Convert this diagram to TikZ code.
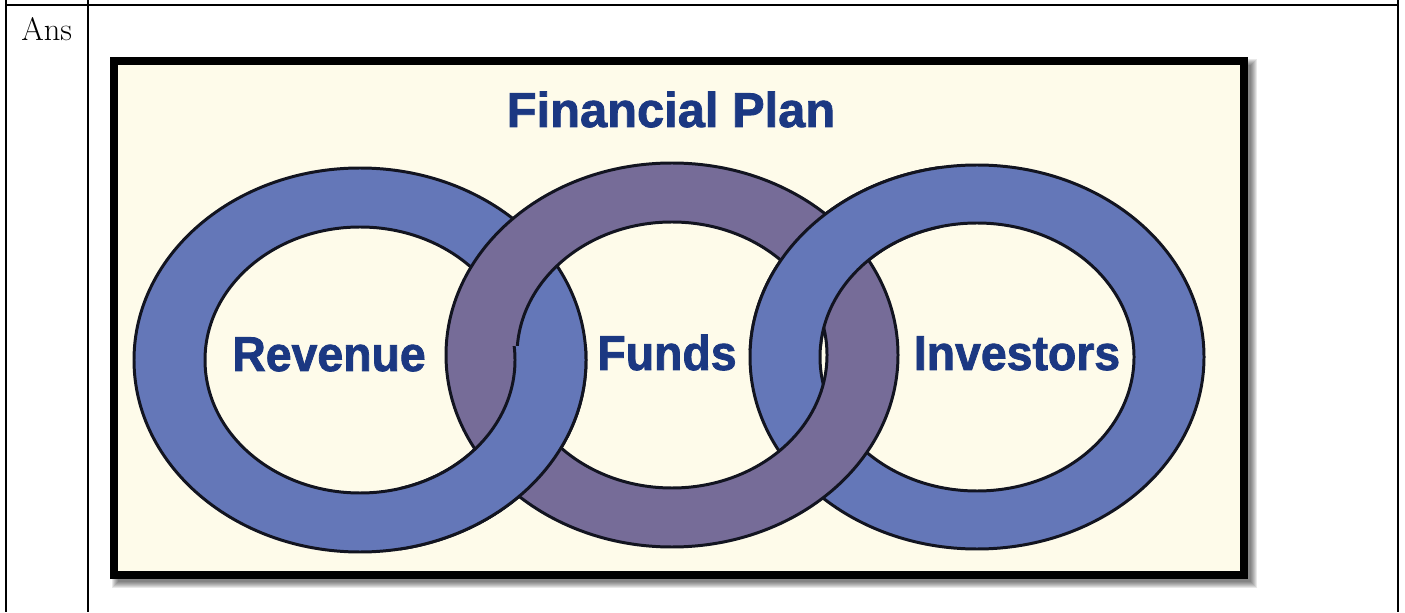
\documentclass[tikz,border=0pt]{standalone}
\usepackage{fontspec}
\newfontfamily\heavyfont[FakeBold=1.6]{Liberation Sans}
\newfontfamily\labelfont[FakeStretch=0.95,FakeBold=1.6]{Liberation Sans}
\definecolor{Cream}{HTML}{FEFBEA}
\definecolor{RingBlue}{HTML}{6477B8}
\definecolor{RingPurple}{HTML}{766C98}
\definecolor{Navy}{HTML}{1B3882}
\definecolor{Ink}{HTML}{121420}

\newcommand\revenuering{(rev) ellipse [x radius=226,y radius=192] (rev) ellipse [x radius=155,y radius=133]}
\newcommand\fundsring{(fund) ellipse [x radius=226,y radius=192] (fund) ellipse [x radius=155,y radius=133]}
\newcommand\investorsring{(inv) ellipse [x radius=227,y radius=192] (inv) ellipse [x radius=157,y radius=134]}

\begin{document}
\begin{tikzpicture}[x=0.02cm,y=0.02cm,
    rule/.style={draw=black,line width=1pt},
    ring/.style={draw=Ink,line width=1.7pt,even odd rule},
    word/.style={anchor=base,text=Navy,inner sep=0pt,font=\labelfont\bfseries\fontsize{27.8}{30}\selectfont}]
  \useasboundingbox (0,0) rectangle (1405,612);
  \foreach \x in {6,88,1398}\draw[rule] (\x,612)--(\x,0);
  \draw[rule] (6,607)--(1398,607);
  \node[anchor=base west,inner sep=0pt,font=\fontsize{18.5}{22}\selectfont] (ans) at (21,571) {Ans};

  \foreach \k in {0,...,6}\fill[black,opacity=0.09] (112+\k,24+\k) rectangle (1257-\k,553-\k);
  \draw[line width=4.5pt,fill=Cream] (114,37) rectangle (1244,551);
  \node[word,font=\heavyfont\bfseries\fontsize{27.8}{30}\selectfont] (title) at (671,485) {Financial Plan};

  \coordinate (rev) at (360,252);
  \coordinate (fund) at (672,257);
  \coordinate (inv) at (977,255);
  \filldraw[ring,fill=RingBlue] \revenuering;
  \filldraw[ring,fill=RingBlue] \investorsring;
  \filldraw[ring,fill=RingPurple] \fundsring;
  \begin{scope}
    \clip (400,0) rectangle (640,265);
    \filldraw[ring,fill=RingBlue] \revenuering;
  \end{scope}
  \begin{scope}
    \clip (720,262) rectangle (940,612);
    \filldraw[ring,fill=RingBlue] \investorsring;
  \end{scope}

  \node[word] (revenue) at (329,241) {Revenue};
  \node[word] (funds) at (667,242) {Funds};
  \node[word] (investors) at (1017,242) {Investors};
\end{tikzpicture}
\end{document}
